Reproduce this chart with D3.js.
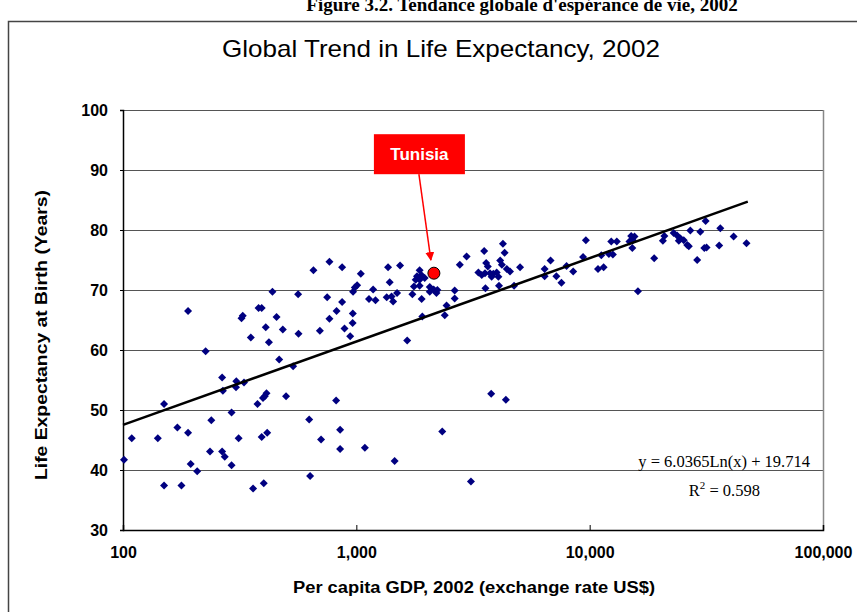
<!DOCTYPE html>
<html>
<head>
<meta charset="utf-8">
<script src="https://cdn.jsdelivr.net/npm/d3@7"></script>
<style>
  body { margin: 0; background: #fff; }
  svg { display: block; }
</style>
</head>
<body>
<svg id="chart"></svg>
<script>
// per capita GDP (US$, 2002) and life expectancy at birth (years), one entry per country
const gdp = [
  101, 109, 141, 150, 150, 178, 171, 190, 190, 195,
  208, 226, 239, 236, 266, 268, 266, 273, 292, 292,
  306, 305, 330, 313, 322, 326, 353, 381, 393, 409,
  422, 455, 467, 484, 536, 565, 412, 405, 398, 377,
  500, 393, 415, 361, 401, 628, 634, 706, 819, 852,
  852, 1088, 698, 767, 823, 890, 941, 966, 964, 869,
  437, 563, 655, 767, 869, 1045, 750, 1008, 985, 968,
  1180, 1133, 1208, 1368, 1540, 1390, 1349, 1416, 1438, 1495,
  1738, 1868, 1820, 1899, 1796, 1868, 1963, 1765, 1868, 1905,
  2064, 2146, 2204, 2225, 2064, 2640, 2640, 2436, 2393, 1918,
  2776, 2969, 1652, 3785, 4375, 2334, 1459, 3098, 3532, 4250,
  4320, 3601, 3659, 3335, 3447, 3560, 3741, 3864, 3996, 4063,
  3800, 4135, 4206, 4416, 4557, 5030, 3576, 4086, 4742, 6410,
  6410, 6800, 7200, 7570, 7960, 8500, 9630, 9370, 10860, 11480,
  11220, 12090, 12570, 12370, 13070, 15060, 15300, 14810, 15560, 15230,
  16100, 18900, 20600, 20900, 22900, 23700, 24500, 25300, 26200, 26600,
  27000, 29800, 31400, 36300, 31000, 31700, 35900, 41400, 47000, 28900,
  24100
];
const lifeExp = [
  41.7, 45.3, 45.3, 51.0, 37.4, 37.4, 47.1, 46.2, 66.5, 41.0,
  39.8, 59.8, 48.3, 43.1, 55.4, 53.2, 43.1, 42.2, 40.8, 49.6,
  54.8, 53.8, 54.6, 45.3, 65.3, 65.7, 62.1, 67.0, 67.0, 63.8,
  61.3, 65.5, 58.4, 63.4, 57.3, 62.7, 52.8, 52.3, 52.0, 51.0,
  52.3, 45.5, 46.2, 36.9, 37.8, 48.4, 39.0, 45.1, 51.6, 46.7,
  43.5, 43.7, 63.2, 65.2, 66.5, 63.6, 62.3, 66.1, 64.5, 68.0,
  69.7, 69.3, 73.3, 74.7, 73.8, 72.7, 68.8, 70.8, 70.4, 69.7,
  70.1, 68.5, 68.3, 73.8, 74.1, 71.3, 68.8, 68.9, 68.1, 69.5,
  69.3, 73.3, 72.3, 72.5, 71.7, 71.7, 72.0, 70.6, 70.7, 68.5,
  69.7, 70.1, 69.5, 70.0, 70.5, 69.9, 68.6, 67.4, 65.8, 65.6,
  74.2, 75.6, 61.6, 52.7, 51.7, 46.4, 41.5, 38.1, 76.5, 77.7,
  76.2, 74.5, 73.9, 72.9, 72.5, 72.8, 72.8, 72.7, 72.9, 72.2,
  72.2, 74.9, 74.2, 73.5, 73.1, 73.8, 70.3, 70.7, 70.7, 73.5,
  72.3, 74.9, 72.3, 71.2, 74.0, 73.1, 78.3, 75.5, 73.5, 73.8,
  75.8, 76.0, 75.9, 78.1, 78.1, 79.0, 78.3, 78.1, 78.9, 77.0,
  69.8, 75.3, 78.2, 79.0, 79.5, 79.1, 78.6, 78.3, 77.5, 77.3,
  79.9, 79.7, 81.5, 80.3, 77.0, 77.1, 77.4, 78.9, 77.8, 75.0,
  78.2
];

// highlighted country
const highlightName = "Tunisia";
const highlightGdp = 2150;
const highlightLife = 72.8;

// logarithmic trend: y = a ln(x) + b
const trendA = 6.0365;
const trendB = 19.714;
const trendR2 = 0.598;
const trendRange = [100, 47600];

const xTicks = [100, 1000, 10000, 100000];
const yTicks = [30, 40, 50, 60, 70, 80, 90, 100];

const width = 857;
const height = 612;
const margin = { top: 110, left: 123, right: 34, bottom: 82 };
const innerW = width - margin.left - margin.right;
const innerH = height - margin.top - margin.bottom;

const sans = "'Liberation Sans', Arial, sans-serif";
const serif = "'Liberation Serif', 'Times New Roman', serif";

const svg = d3.select("#chart")
  .attr("width", width)
  .attr("height", height);

// figure caption, cropped at the top of the page as in the source
svg.append("text")
  .attr("x", 522)
  .attr("y", 11)
  .attr("text-anchor", "middle")
  .style("font-family", serif)
  .style("font-weight", "bold")
  .style("font-size", "19px")
  .text("Figure 3.2. Tendance globale d'espérance de vie, 2002");

// outer chart frame
svg.append("rect")
  .attr("x", 8.5)
  .attr("y", 21.5)
  .attr("width", 870)
  .attr("height", 620)
  .attr("fill", "#fff")
  .attr("stroke", "#444")
  .attr("stroke-width", 1.5);

svg.append("text")
  .attr("x", 441)
  .attr("y", 57)
  .attr("text-anchor", "middle")
  .attr("textLength", 438)
  .attr("lengthAdjust", "spacingAndGlyphs")
  .style("font-family", sans)
  .style("font-size", "24px")
  .text("Global Trend in Life Expectancy, 2002");

const x = d3.scaleLog()
  .domain([100, 100000])
  .range([0, innerW]);
const y = d3.scaleLinear()
  .domain([30, 100])
  .range([innerH, 0]);

const g = svg.append("g")
  .attr("transform", `translate(${margin.left},${margin.top})`);

// gridlines
g.selectAll(".grid")
  .data(yTicks.filter(d => d > 30))
  .enter()
  .append("line")
  .attr("x1", 0)
  .attr("x2", innerW)
  .attr("y1", d => Math.round(y(d)) + 0.5)
  .attr("y2", d => Math.round(y(d)) + 0.5)
  .attr("stroke", "#555")
  .attr("stroke-width", 1);

// right border of plot area
g.append("line")
  .attr("x1", innerW + 0.5)
  .attr("x2", innerW + 0.5)
  .attr("y1", 0)
  .attr("y2", innerH)
  .attr("stroke", "#888")
  .attr("stroke-width", 1.5);

const xAxis = d3.axisBottom(x)
  .tickValues(xTicks)
  .tickFormat(d3.format(","))
  .tickSize(-5)
  .tickPadding(17);
const xAxisG = g.append("g")
  .attr("transform", `translate(0,${innerH})`)
  .call(xAxis);
xAxisG.select(".domain").attr("stroke", "#000").attr("stroke-width", 1.5);
xAxisG.selectAll("text")
  .style("font-family", sans)
  .style("font-weight", "bold")
  .style("font-size", "16px")
  .attr("fill", "#000");

const yAxis = d3.axisLeft(y)
  .tickValues(yTicks)
  .tickSize(3)
  .tickPadding(12);
const yAxisG = g.append("g").call(yAxis);
yAxisG.select(".domain").attr("stroke", "#000").attr("stroke-width", 1.5);
yAxisG.selectAll("text")
  .style("font-family", sans)
  .style("font-weight", "bold")
  .style("font-size", "16px")
  .attr("fill", "#000");

svg.append("text")
  .attr("x", 474)
  .attr("y", 593)
  .attr("text-anchor", "middle")
  .attr("textLength", 362)
  .attr("lengthAdjust", "spacingAndGlyphs")
  .style("font-family", sans)
  .style("font-weight", "bold")
  .style("font-size", "16px")
  .text("Per capita GDP, 2002 (exchange rate US$)");

svg.append("text")
  .attr("transform", "translate(47,335) rotate(-90)")
  .attr("text-anchor", "middle")
  .attr("textLength", 290)
  .attr("lengthAdjust", "spacingAndGlyphs")
  .style("font-family", sans)
  .style("font-weight", "bold")
  .style("font-size", "16px")
  .text("Life Expectancy at Birth (Years)");

// scatter points
const points = gdp.map((v, i) => ({ gdp: v, life: lifeExp[i] }));
const diamond = d3.symbol().type(d3.symbolSquare).size(32);
g.selectAll(".pt")
  .data(points)
  .enter()
  .append("path")
  .attr("class", "pt")
  .attr("d", diamond)
  .attr("transform", d => `translate(${x(d.gdp)},${y(d.life)}) rotate(45)`)
  .attr("fill", "#000080");

// trend line
const trendLine = d3.line()
  .x(d => x(d))
  .y(d => y(trendA * Math.log(d) + trendB));
g.append("path")
  .datum(trendRange)
  .attr("fill", "none")
  .attr("stroke", "#000")
  .attr("stroke-width", 2.5)
  .attr("d", trendLine);

g.append("text")
  .attr("x", innerW - 13)
  .attr("y", y(40) - 3)
  .attr("text-anchor", "end")
  .style("font-family", serif)
  .style("font-size", "16.5px")
  .text(`y = ${trendA}Ln(x) + ${trendB}`);
const r2 = g.append("text")
  .attr("x", innerW - 63)
  .attr("y", y(40) + 26)
  .attr("text-anchor", "end")
  .style("font-family", serif)
  .style("font-size", "16.5px");
r2.append("tspan").text("R");
r2.append("tspan").attr("dy", -7).style("font-size", "11px").text("2");
r2.append("tspan").attr("dy", 7).text(` = ${trendR2}`);

// highlighted country with callout
const hx = x(highlightGdp);
const hy = y(highlightLife);

svg.append("defs").append("marker")
  .attr("id", "arrow")
  .attr("viewBox", "0 0 10 10")
  .attr("refX", 9)
  .attr("refY", 5)
  .attr("markerWidth", 6)
  .attr("markerHeight", 6)
  .attr("orient", "auto")
  .append("path")
  .attr("d", "M0,0 L10,5 L0,10 Z")
  .attr("fill", "#f00");

const boxW = 91, boxH = 40;
const boxX = hx - 60, boxY = hy - 139;
g.append("rect")
  .attr("x", boxX)
  .attr("y", boxY)
  .attr("width", boxW)
  .attr("height", boxH)
  .attr("fill", "#ff0000");
g.append("text")
  .attr("x", boxX + boxW / 2)
  .attr("y", boxY + boxH / 2 + 6)
  .attr("text-anchor", "middle")
  .style("font-family", sans)
  .style("font-weight", "bold")
  .style("font-size", "17px")
  .attr("fill", "#fff")
  .text(highlightName);
g.append("line")
  .attr("x1", boxX + 45)
  .attr("y1", boxY + boxH)
  .attr("x2", hx - 3)
  .attr("y2", hy - 13)
  .attr("stroke", "#f00")
  .attr("stroke-width", 1.5)
  .attr("marker-end", "url(#arrow)");
g.append("circle")
  .attr("cx", hx)
  .attr("cy", hy)
  .attr("r", 6)
  .attr("fill", "#ff0000")
  .attr("stroke", "#000")
  .attr("stroke-width", 1);
</script>
</body>
</html>
